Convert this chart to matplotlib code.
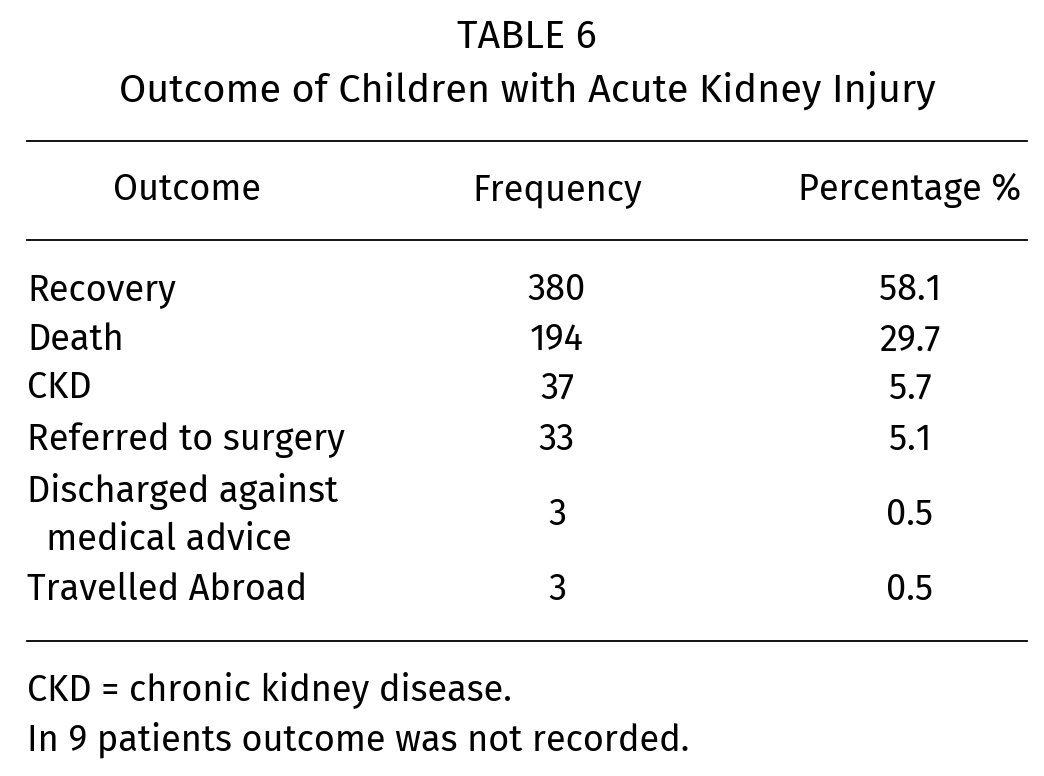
import matplotlib.pyplot as plt
from matplotlib import font_manager

names = {f.name for f in font_manager.fontManager.ttflist}
fam = 'DejaVu Sans'
for cand in ['Fira Sans', 'PT Sans', 'Noto Sans']:
    if cand in names:
        fam = cand
        break
plt.rcParams['font.family'] = [fam, 'DejaVu Sans']

title = "TABLE 6"
subtitle = "Outcome of Children with Acute Kidney Injury"
headers = ["Outcome", "Frequency", "Percentage %"]
outcomes = ["Recovery", "Death", "CKD", "Referred to surgery",
            "Discharged against\n  medical advice", "Travelled Abroad"]
frequency = [380, 194, 37, 33, 3, 3]
percentage = [58.1, 29.7, 5.7, 5.1, 0.5, 0.5]
notes = ["CKD = chronic kidney disease.", "In 9 patients outcome was not recorded."]

fig = plt.figure(figsize=(10.44, 7.76), dpi=100)
ax = fig.add_axes([0, 0, 1, 1])
ax.set_xlim(0, 1044)
ax.set_ylim(776, 0)
ax.axis('off')

fs = 26
tfs = 28.5
ax.text(527, 37, title, ha='center', va='center', fontsize=tfs)
ax.text(527, 90, subtitle, ha='center', va='center', fontsize=tfs)

for y in [141, 240, 641]:
    ax.plot([27, 1027], [y, y], color='black', lw=1.3)

ax.text(187, 190, headers[0], ha='center', va='center', fontsize=fs)
ax.text(557, 190, headers[1], ha='center', va='center', fontsize=fs)
ax.text(910, 190, headers[2], ha='center', va='center', fontsize=fs)

row_y = [290, 340, 388, 440, 515, 590]
for name, f, p, y in zip(outcomes, frequency, percentage, row_y):
    ax.text(27, y, name, ha='left', va='center', fontsize=fs, linespacing=1.4)
    ax.text(557, y, str(f), ha='center', va='center', fontsize=fs)
    ax.text(910, y, f"{p:.1f}", ha='center', va='center', fontsize=fs)

for i, n in enumerate(notes):
    ax.text(27, 690 + 50 * i, n, ha='left', va='center', fontsize=fs)

fig.savefig('out.png', dpi=100)
